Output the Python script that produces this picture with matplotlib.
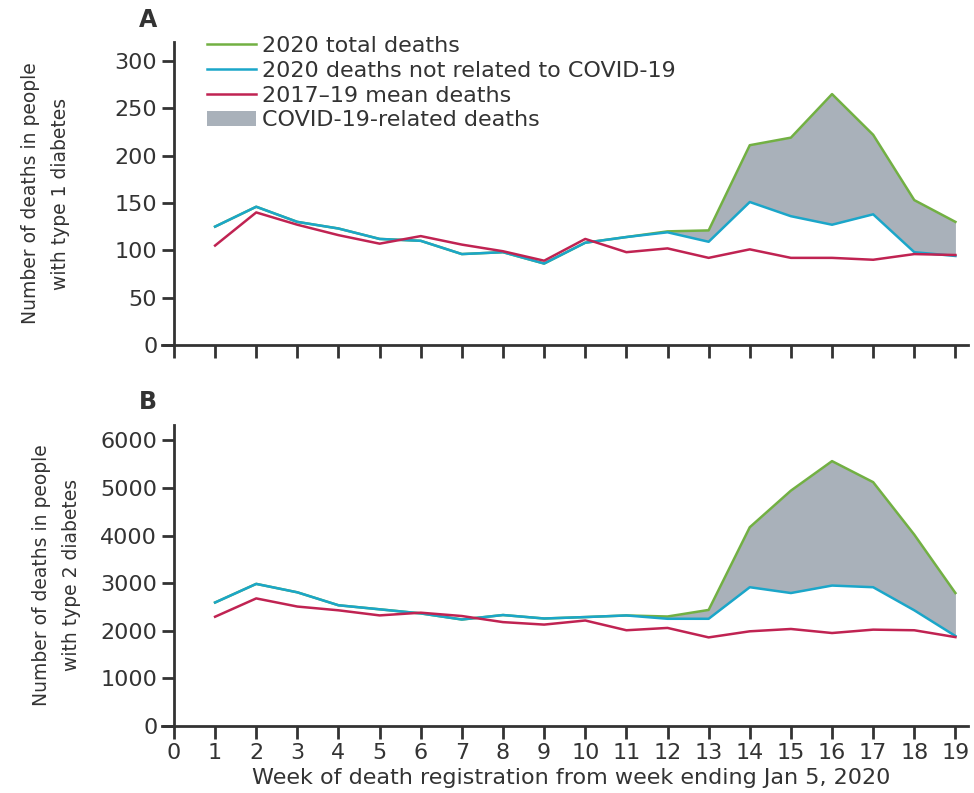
import matplotlib.pyplot as plt
import numpy as np

plt.rcParams['font.family'] = ['DejaVu Sans']

weeks = np.arange(1, 20)

# panel A - type 1 diabetes
t1_total = [125, 146, 130, 123, 112, 110, 96, 98, 86, 108, 114, 120, 121, 211, 219, 265, 222, 153, 130]
t1_noncovid = [125, 146, 130, 123, 112, 110, 96, 98, 86, 108, 114, 119, 109, 151, 136, 127, 138, 98, 94]
t1_mean = [105, 140, 127, 116, 107, 115, 106, 99, 89, 112, 98, 102, 92, 101, 92, 92, 90, 96, 95]

# panel B - type 2 diabetes
t2_total = [2594, 2985, 2808, 2536, 2451, 2365, 2237, 2331, 2258, 2288, 2322, 2300, 2438, 4175, 4944, 5564, 5122, 4019, 2793]
t2_noncovid = [2594, 2985, 2808, 2536, 2451, 2365, 2237, 2331, 2258, 2288, 2322, 2252, 2252, 2915, 2793, 2950, 2915, 2430, 1890]
t2_mean = [2295, 2680, 2509, 2430, 2323, 2380, 2310, 2182, 2130, 2216, 2011, 2060, 1861, 1989, 2038, 1953, 2024, 2011, 1867]

green = '#72b043'
cyan = '#1ba6c9'
red = '#c02352'
grey = '#a9b1ba'
dark = '#333333'

fig = plt.figure(figsize=(9.74, 7.93), dpi=100)
axA = fig.add_axes([0.1786, 0.565, 0.815, 0.382])
axB = fig.add_axes([0.1786, 0.0845, 0.815, 0.380])


def draw(ax, total, noncovid, mean, ylim, yticks):
    ax.fill_between(weeks, noncovid, total, color=grey, lw=0,
                    label='COVID-19-related deaths')
    ax.plot(weeks, total, color=green, lw=1.8, label='2020 total deaths')
    ax.plot(weeks, noncovid, color=cyan, lw=1.8,
            label='2020 deaths not related to COVID-19')
    ax.plot(weeks, mean, color=red, lw=1.8, label='2017\u201319 mean deaths')
    ax.set_xlim(0, 19.3)
    ax.set_ylim(*ylim)
    ax.set_yticks(yticks)
    ax.set_xticks(range(0, 20))
    for s in ['top', 'right']:
        ax.spines[s].set_visible(False)
    for s in ['left', 'bottom']:
        ax.spines[s].set_linewidth(2)
        ax.spines[s].set_color(dark)
    ax.tick_params(length=9, width=2, color=dark, labelsize=16,
                   labelcolor='#333333', pad=3)


draw(axA, t1_total, t1_noncovid, t1_mean, (0, 320), range(0, 301, 50))
draw(axB, t2_total, t2_noncovid, t2_mean, (0, 6330), range(0, 6001, 1000))
axA.tick_params(axis='x', labelbottom=False)
axA.spines['bottom'].set_bounds(-0.3, 19.3)
axB.spines['bottom'].set_bounds(-0.3, 19.3)

h, l = axA.get_legend_handles_labels()
order = [1, 2, 3, 0]
axA.legend([h[i] for i in order], [l[i] for i in order], loc='upper left',
           bbox_to_anchor=(0.03, 1.05), frameon=False, fontsize=16,
           handlelength=2.2, handletextpad=0.3, labelspacing=0.22,
           borderaxespad=0, labelcolor=dark)

axA.set_ylabel('Number of deaths in people\nwith type 1 diabetes', fontsize=13.5,
               color=dark, labelpad=32, linespacing=1.75)
axB.set_ylabel('Number of deaths in people\nwith type 2 diabetes', fontsize=13.5,
               color=dark, labelpad=14, linespacing=1.75)
axB.set_xlabel('Week of death registration from week ending Jan 5, 2020',
               fontsize=16, color=dark, labelpad=4)

fig.text(0.143, 0.975, 'A', fontsize=17, fontweight='bold', color=dark, va='center')
fig.text(0.143, 0.493, 'B', fontsize=17, fontweight='bold', color=dark, va='center')

fig.savefig('out.png', dpi=100)
